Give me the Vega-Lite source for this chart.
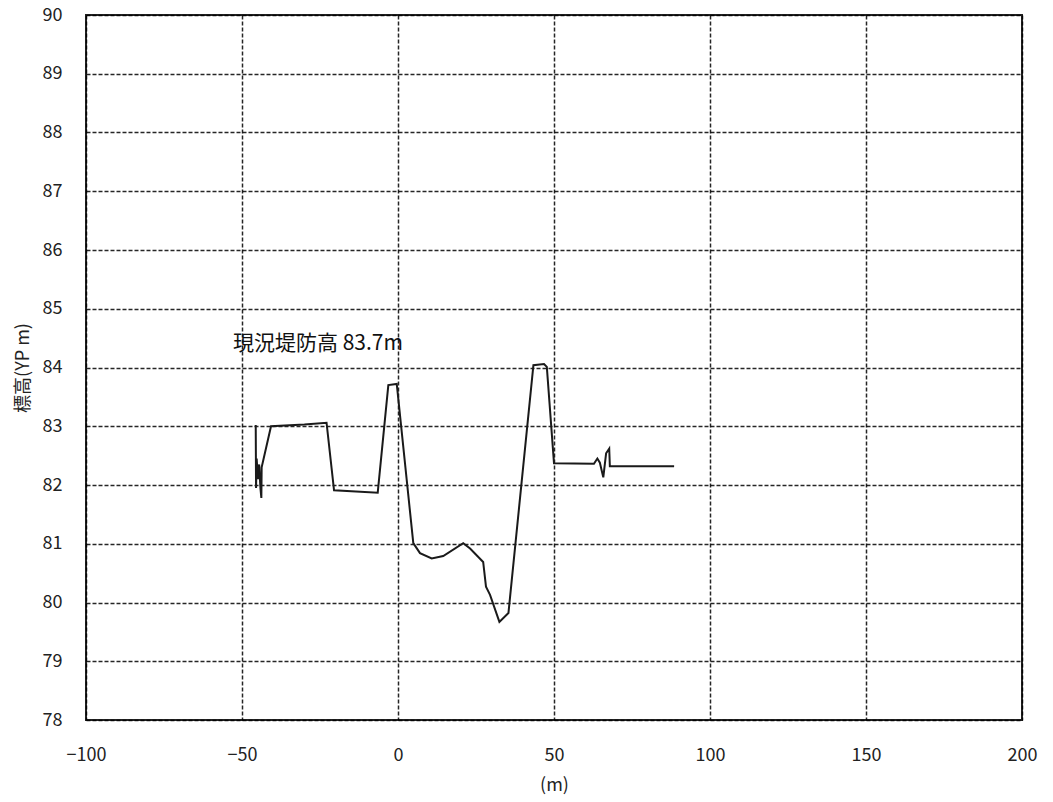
{
  "$schema": "https://vega.github.io/schema/vega-lite/v6.json",
  "width": 936,
  "height": 705,
  "autosize": {"type": "none"},
  "padding": {"left": 86, "top": 15, "right": 31, "bottom": 82},
  "background": "white",
  "config": {
    "view": {"stroke": "#222", "strokeWidth": 2},
    "font": "Noto Sans CJK JP",
    "axis": {
      "labelFont": "Noto Sans CJK JP",
      "titleFont": "Noto Sans CJK JP",
      "labelColor": "#222",
      "titleColor": "#222",
      "labelFontSize": 18,
      "titleFontSize": 18,
      "titleFontWeight": "normal",
      "grid": true,
      "gridColor": "#000",
      "gridDash": [4, 2],
      "gridWidth": 1.5,
      "gridOpacity": 0.85,
      "ticks": false,
      "tickSize": 0,
      "domain": false
    }
  },
  "datasets": {
    "profile": [
      {"i": 0, "x": -45.6, "y": 83.02},
      {"i": 1, "x": -45.5, "y": 81.95},
      {"i": 2, "x": -45.3, "y": 82.45},
      {"i": 3, "x": -44.9, "y": 82.1},
      {"i": 4, "x": -44.5, "y": 82.35},
      {"i": 5, "x": -44.1, "y": 81.95},
      {"i": 6, "x": -43.8, "y": 81.78},
      {"i": 7, "x": -43.7, "y": 82.3},
      {"i": 8, "x": -40.7, "y": 83.0},
      {"i": 9, "x": -30.0, "y": 83.03},
      {"i": 10, "x": -22.9, "y": 83.06},
      {"i": 11, "x": -20.5, "y": 81.91},
      {"i": 12, "x": -6.5, "y": 81.87},
      {"i": 13, "x": -3.1, "y": 83.7},
      {"i": 14, "x": -0.4, "y": 83.72},
      {"i": 15, "x": 4.9, "y": 81.01},
      {"i": 16, "x": 7.05, "y": 80.84},
      {"i": 17, "x": 10.8, "y": 80.75},
      {"i": 18, "x": 14.5, "y": 80.79},
      {"i": 19, "x": 20.9, "y": 81.01},
      {"i": 20, "x": 23.1, "y": 80.92},
      {"i": 21, "x": 27.3, "y": 80.69},
      {"i": 22, "x": 28.2, "y": 80.27},
      {"i": 23, "x": 29.5, "y": 80.13},
      {"i": 24, "x": 32.5, "y": 79.67},
      {"i": 25, "x": 35.4, "y": 79.82},
      {"i": 26, "x": 43.4, "y": 84.04},
      {"i": 27, "x": 46.8, "y": 84.06},
      {"i": 28, "x": 47.7, "y": 84.01},
      {"i": 29, "x": 50.0, "y": 82.37},
      {"i": 30, "x": 62.8, "y": 82.36},
      {"i": 31, "x": 63.9, "y": 82.45},
      {"i": 32, "x": 64.7, "y": 82.38},
      {"i": 33, "x": 65.8, "y": 82.13},
      {"i": 34, "x": 66.7, "y": 82.54},
      {"i": 35, "x": 67.7, "y": 82.62},
      {"i": 36, "x": 67.9, "y": 82.32},
      {"i": 37, "x": 88.5, "y": 82.32}
    ],
    "label": [
      {"x": -52.9, "y": 84.4, "text": "現況堤防高 83.7m"}
    ]
  },
  "layer": [
    {
      "data": {"name": "profile"},
      "mark": {"type": "line", "color": "#1a1a1a", "strokeWidth": 2, "clip": true},
      "encoding": {
        "x": {
          "field": "x",
          "type": "quantitative",
          "scale": {"domain": [-100, 200], "nice": false, "zero": false},
          "axis": {"values": [-100, -50, 0, 50, 100, 150, 200], "format": "d", "title": "(m)", "labelPadding": 26, "titlePadding": 12, "labelFlush": false}
        },
        "y": {
          "field": "y",
          "type": "quantitative",
          "scale": {"domain": [78, 90], "nice": false, "zero": false},
          "axis": {"values": [78, 79, 80, 81, 82, 83, 84, 85, 86, 87, 88, 89, 90], "format": "d", "title": "標高(YP m)", "labelPadding": 24, "titlePadding": 10, "labelFlush": false}
        },
        "order": {"field": "i", "type": "quantitative"}
      }
    },
    {
      "data": {"name": "label"},
      "mark": {"type": "text", "align": "left", "baseline": "middle", "fontSize": 21, "font": "Noto Sans CJK JP", "color": "#111"},
      "encoding": {
        "x": {"field": "x", "type": "quantitative"},
        "y": {"field": "y", "type": "quantitative"},
        "text": {"field": "text"}
      }
    }
  ]
}
